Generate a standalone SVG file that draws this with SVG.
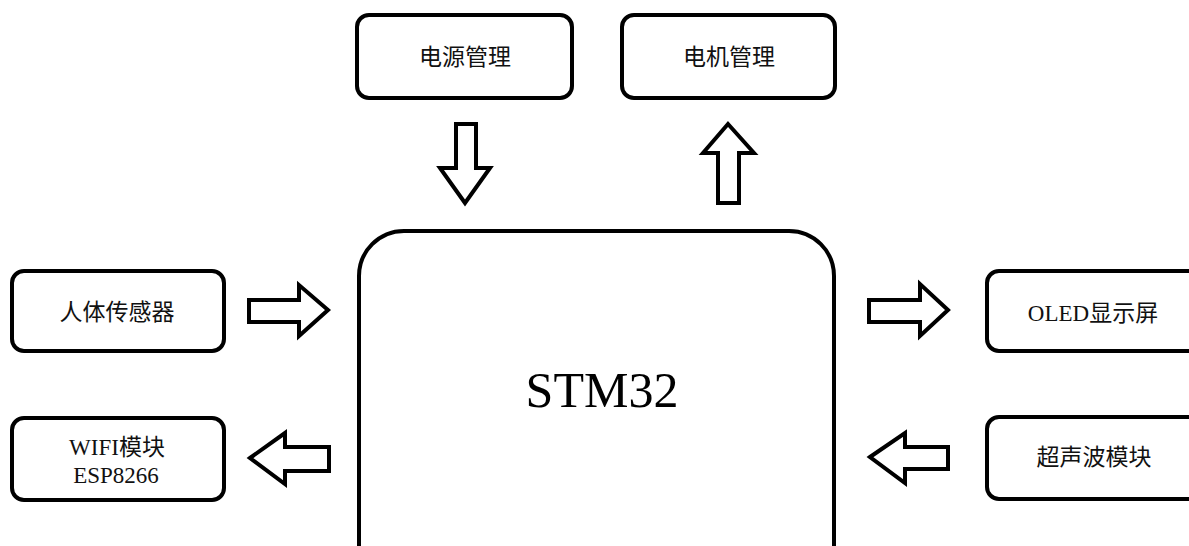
<svg xmlns="http://www.w3.org/2000/svg" width="1189" height="546" viewBox="0 0 1189 546">
<style>
.box{fill:#fff;stroke:#000;stroke-width:4}
.arr{fill:#fff;stroke:#000;stroke-width:4;stroke-linejoin:miter}
.t{font-family:"Liberation Serif","Noto Sans CJK SC",serif;font-size:23px;fill:#111;text-anchor:middle}
.big{font-family:"Liberation Serif",serif;font-size:50px;fill:#000;text-anchor:middle}
</style>
<rect width="1189" height="546" fill="#fff"/>
<g id="power"><rect class="box" x="357" y="15" width="215" height="83" rx="12"/><text class="t" x="465" y="65">电源管理</text></g>
<g id="motor"><rect class="box" x="622" y="15" width="213" height="83" rx="12"/><text class="t" x="729" y="65">电机管理</text></g>
<g id="human"><rect class="box" x="12" y="271" width="212" height="80" rx="12"/><text class="t" x="117" y="320">人体传感器</text></g>
<g id="wifi"><rect class="box" x="12" y="418" width="212" height="82" rx="12"/><text class="t" x="117" y="455">WIFI模块</text><text class="t" x="116" y="483">ESP8266</text></g>
<g id="oled"><rect class="box" x="987" y="271" width="230" height="80" rx="12"/><text class="t" x="1093" y="321">OLED显示屏</text></g>
<g id="ultra"><rect class="box" x="987" y="417" width="230" height="82" rx="12"/><text class="t" x="1094" y="465">超声波模块</text></g>
<g id="stm32"><rect class="box" x="359" y="231" width="475" height="360" rx="45"/><text class="big" x="602" y="407">STM32</text></g>
<g id="connectors">
<polygon class="arr" points="456,124 476,124 476,168 490,168 465,203 440,168 456,168"/>
<polygon class="arr" points="728,124 754,153 739,153 739,203 718,203 718,153 703,153"/>
<polygon class="arr" points="249,300 299,300 299,285 328,310 299,336 299,322 249,322"/>
<polygon class="arr" points="250,458 285,433 285,447 329,447 329,471 285,471 285,484"/>
<polygon class="arr" points="869,300 920,300 920,284 948,310 920,336 920,322 869,322"/>
<polygon class="arr" points="870,457 905,433 905,447 948,447 948,469 905,469 905,483"/>
</g>
</svg>
